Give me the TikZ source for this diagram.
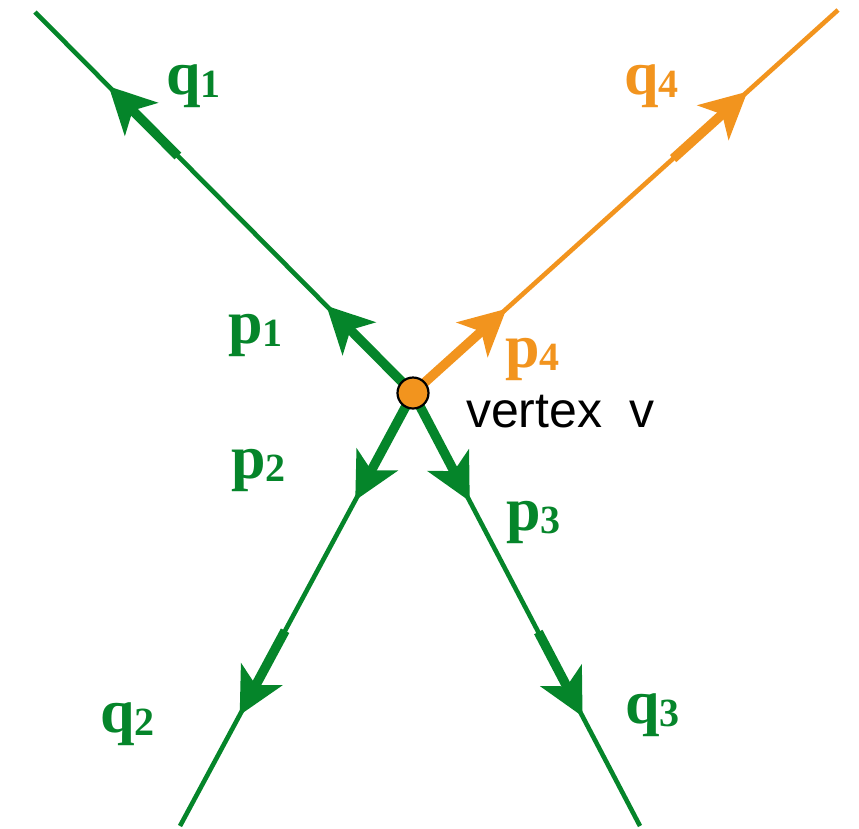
\documentclass[tikz,border=0pt]{standalone}
\usepackage{fontspec}
\setmainfont{Liberation Serif}
\setsansfont{Liberation Sans}
\usetikzlibrary{arrows.meta,calc}
\definecolor{fgreen}{RGB}{5,133,42}
\definecolor{forange}{RGB}{242,148,30}
\newcommand\plabel[2]{{\fontsize{62}{62}\selectfont\bfseries #1}\raisebox{-3pt}{\fontsize{40}{40}\selectfont\bfseries #2}}
\begin{document}
\begin{tikzpicture}[x=1pt,y=-1pt,
  thinline/.style={line width=4.6pt},
  thickarrow/.style={line width=9.5pt,-{Stealth[length=46pt,width=46pt,inset=12pt]}},
  lab/.style={anchor=base west,inner sep=0pt,outer sep=0pt},
  vtx/.style={circle,draw=black,line width=2.2pt,fill=forange,minimum size=31pt,inner sep=0pt}]
\useasboundingbox (0,0) rectangle (859,828);
% endpoints
\coordinate (V) at (413,393);
\coordinate (TL) at (35,12);
\coordinate (TR) at (838,10);
\coordinate (BL) at (180,826);
\coordinate (BR) at (640,826);
% arrow tips and thick starts
\coordinate (p1t) at ($(V)!0.229!(TL)$);
\coordinate (q1s) at ($(V)!0.622!(TL)$);
\coordinate (q1t) at ($(V)!0.805!(TL)$);
\coordinate (p4t) at ($(V)!0.22!(TR)$);
\coordinate (q4s) at ($(V)!0.612!(TR)$);
\coordinate (q4t) at ($(V)!0.787!(TR)$);
\coordinate (p2t) at ($(V)!0.248!(BL)$);
\coordinate (q2s) at ($(V)!0.549!(BL)$);
\coordinate (q2t) at ($(V)!0.744!(BL)$);
\coordinate (p3t) at ($(V)!0.25!(BR)$);
\coordinate (q3s) at ($(V)!0.552!(BR)$);
\coordinate (q3t) at ($(V)!0.747!(BR)$);
% thin lines
\draw[thinline,fgreen] (V) -- (TL);
\draw[thinline,forange] (V) -- (TR);
\draw[thinline,fgreen] (V) -- (BL);
\draw[thinline,fgreen] (V) -- (BR);
% thick arrows
\draw[thickarrow,fgreen] (V) -- (p1t);
\draw[thickarrow,fgreen] (q1s) -- (q1t);
\draw[thickarrow,forange] (V) -- (p4t);
\draw[thickarrow,forange] (q4s) -- (q4t);
\draw[thickarrow,fgreen] (V) -- (p2t);
\draw[thickarrow,fgreen] (q2s) -- (q2t);
\draw[thickarrow,fgreen] (V) -- (p3t);
\draw[thickarrow,fgreen] (q3s) -- (q3t);
% vertex
\node[vtx] (v) at (V) {};
% labels
\node[lab,fgreen] (lq1) at (166,94) {\plabel{q}{1}};
\node[lab,forange] (lq4) at (624,94) {\plabel{q}{4}};
\node[lab,fgreen] (lp1) at (228,343) {\plabel{p}{1}};
\node[lab,forange] (lp4) at (505,367) {\plabel{p}{4}};
\node[lab,fgreen] (lp2) at (231,478) {\plabel{p}{2}};
\node[lab,fgreen] (lp3) at (506,530) {\plabel{p}{3}};
\node[lab,fgreen] (lq2) at (100,732) {\plabel{q}{2}};
\node[lab,fgreen] (lq3) at (625,723) {\plabel{q}{3}};
\node[lab,black,font=\sffamily\fontsize{50}{50}\selectfont] (vl) at (466,427) {vertex\hspace{0.55em}v};
\end{tikzpicture}
\end{document}
